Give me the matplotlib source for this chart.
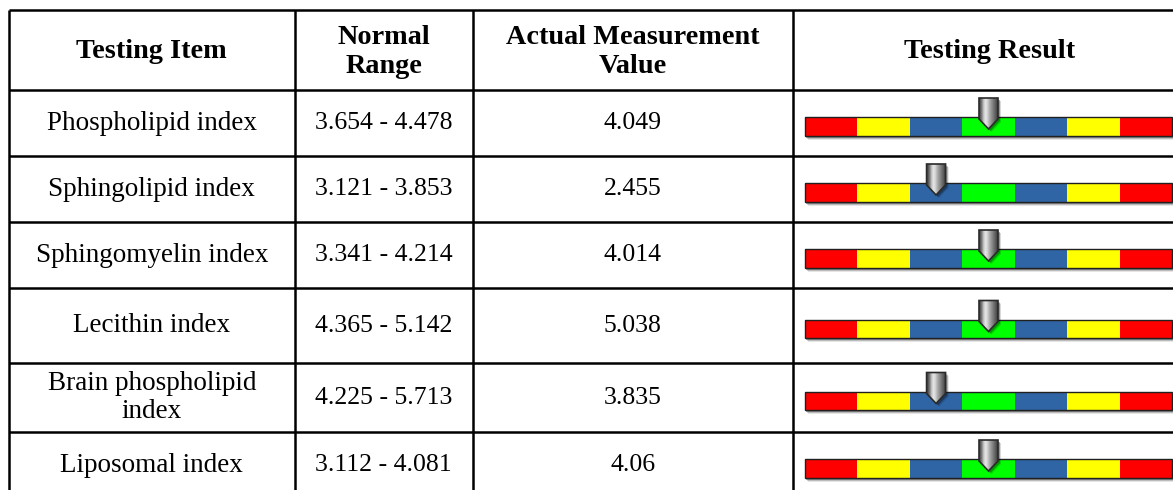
import numpy as np
import matplotlib
matplotlib.use("Agg")
from matplotlib import pyplot as plt
from matplotlib.patches import Rectangle, Polygon

# table data
headers = ["Testing Item", "Normal\nRange", "Actual Measurement\nValue", "Testing Result"]
items = ["Phospholipid index", "Sphingolipid index", "Sphingomyelin index",
         "Lecithin index", "Brain phospholipid\nindex", "Liposomal index"]
range_low = [3.654, 3.121, 3.341, 4.365, 4.225, 3.112]
range_high = [4.478, 3.853, 4.214, 5.142, 5.713, 4.081]
measured = [4.049, 2.455, 4.014, 5.038, 3.835, 4.06]

seg_colors = ["#ff0000", "#ffff00", "#2f65a5", "#00ff00", "#2f65a5", "#ffff00", "#ff0000"]

# layout in pixels
col_edges = [8.5, 295, 472.5, 793, 1187]
row_edges = [10, 90, 156, 222, 288, 363, 432, 498]
bar_x0, bar_x1 = 805, 1172
bar_h = 18.5

fig = plt.figure(figsize=(11.73, 4.9), dpi=100)
ax = fig.add_axes([0, 0, 1, 1])
ax.set_xlim(0, 1173)
ax.set_ylim(490, 0)
ax.axis('off')

serif = 'Liberation Serif'

# grid lines
for y in row_edges:
    ax.plot([col_edges[0], col_edges[-1]], [y, y], color='black', lw=1.8, solid_capstyle='butt')
for x in col_edges:
    ax.plot([x, x], [row_edges[0], row_edges[-1]], color='black', lw=1.8, solid_capstyle='butt')

# header
hy = (row_edges[0] + row_edges[1]) / 2 + 2
for i, h in enumerate(headers):
    cx = (col_edges[i] + col_edges[i + 1]) / 2
    ax.text(cx, hy, h, ha='center', va='center', fontsize=20.3, fontweight='bold',
            family=serif, linespacing=1.25)

seg_w = (bar_x1 - bar_x0) / len(seg_colors)

# gradient used for the pointer
grad = np.array([0.3, 0.5, 0.78, 0.9, 0.82, 0.68, 0.58, 0.48, 0.38, 0.28])
grad_img = np.tile(grad, (2, 1))

for r in range(len(items)):
    y0, y1 = row_edges[r + 1], row_edges[r + 2]
    cy = (y0 + y1) / 2
    texts = [items[r], f"{range_low[r]:.3f} - {range_high[r]:.3f}", str(measured[r])]
    sizes = [19.5, 18.5, 18.5]
    for c, t in enumerate(texts):
        cx = (col_edges[c] + col_edges[c + 1]) / 2
        ax.text(cx, cy, t, ha='center', va='center', fontsize=sizes[c], family=serif,
                linespacing=1.2)

    # bar with shadow
    top = cy - 6
    for k, a in [(4, 0.1), (3, 0.18), (2, 0.3)]:
        ax.add_patch(Rectangle((bar_x0 + k - 1, top + k), bar_x1 - bar_x0, bar_h,
                               facecolor='black', alpha=a, lw=0, zorder=2))
    for i, col in enumerate(seg_colors):
        ax.add_patch(Rectangle((bar_x0 + i * seg_w, top), seg_w, bar_h,
                               facecolor=col, lw=0, zorder=3))
    ax.add_patch(Rectangle((bar_x0, top), bar_x1 - bar_x0, bar_h, facecolor='none',
                           edgecolor='#202020', lw=1.0, zorder=4))

    # pointer position from value vs range
    v = measured[r]
    if v < range_low[r]:
        seg = 2
    elif v > range_high[r]:
        seg = 4
    else:
        seg = 3
    px = bar_x0 + (seg + 0.5) * seg_w
    hw = 9.5
    ptop = top - 19
    verts = [(px - hw, ptop), (px + hw, ptop), (px + hw, top + 2), (px, top + 12), (px - hw, top + 2)]
    for k, a in [(3, 0.15), (2, 0.3)]:
        ax.add_patch(Polygon([(x + k, y + k) for x, y in verts], closed=True,
                             facecolor='black', alpha=a, lw=0, zorder=5))
    poly = Polygon(verts, closed=True, facecolor='none', edgecolor='#2a2a2a', lw=1.2, zorder=7)
    ax.add_patch(poly)
    im = ax.imshow(grad_img, cmap='gray', vmin=0, vmax=1, aspect='auto',
                   extent=(px - hw, px + hw, top + 12, ptop), zorder=6, interpolation='bilinear')
    im.set_clip_path(poly)

fig.savefig('out.png', dpi=100)
